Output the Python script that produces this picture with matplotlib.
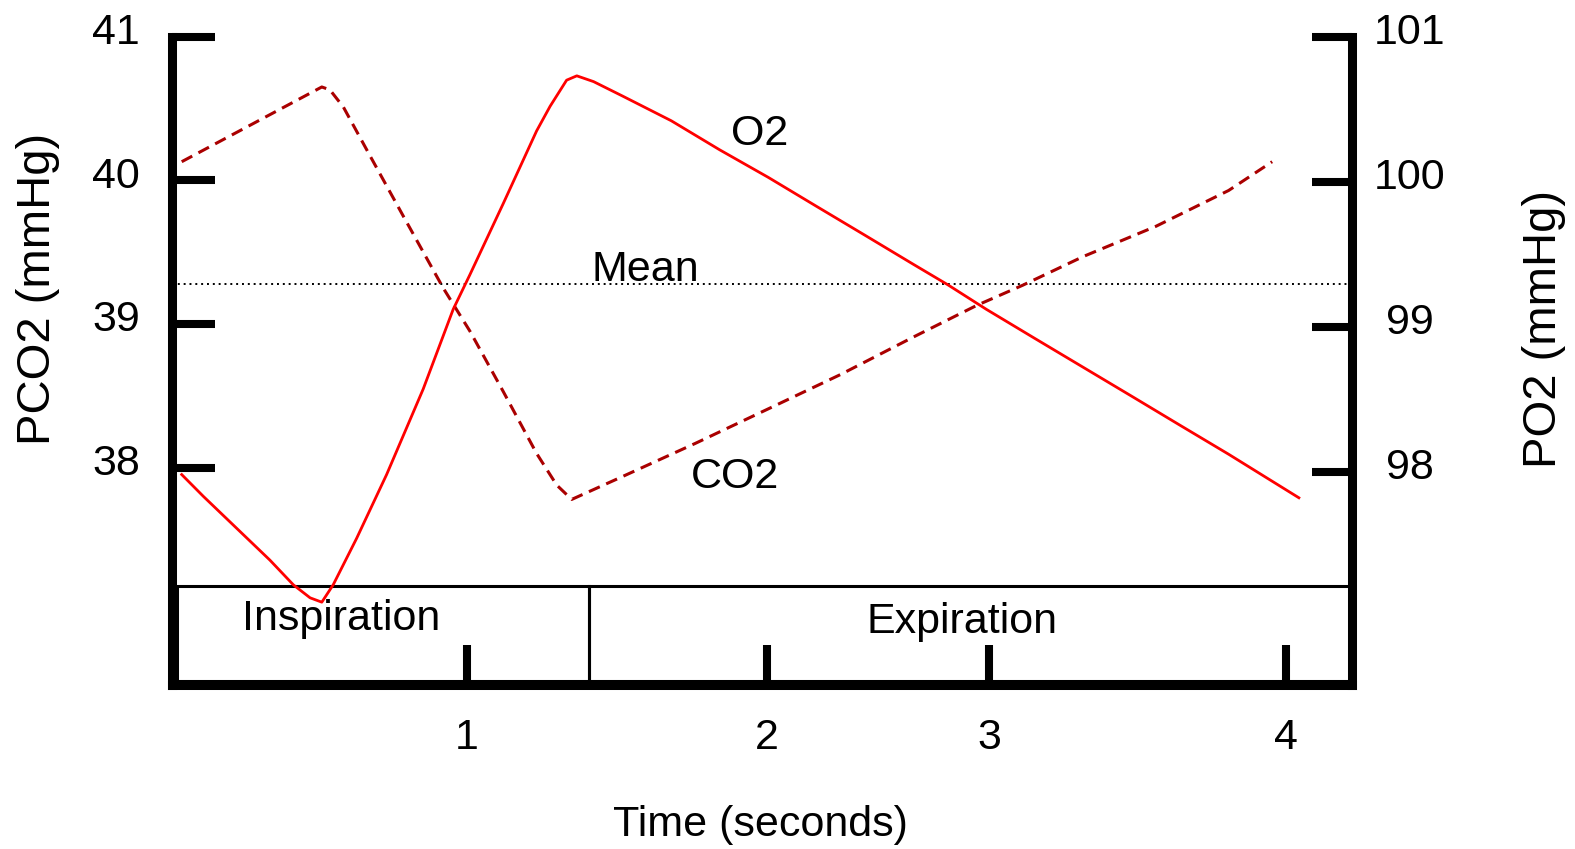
import matplotlib.pyplot as plt
import matplotlib.transforms as mtransforms
from matplotlib.patches import Rectangle

plt.rcParams['font.family'] = ['Liberation Sans', 'DejaVu Sans']

# O2 trace (right axis, mmHg)
o2_time = [0.049, 0.121, 0.232, 0.343, 0.421, 0.477, 0.516, 0.554, 0.632, 0.732,
           0.854, 0.954, 1.010, 1.121, 1.232, 1.277, 1.332, 1.366, 1.422, 1.519,
           1.681, 1.842, 2.004, 2.165, 2.327, 2.488, 2.602, 2.731, 2.892, 3.054,
           3.216, 3.377, 3.539, 3.773]
po2 = [97.98, 97.83, 97.61, 97.39, 97.22, 97.13, 97.10, 97.22, 97.54, 97.98,
       98.57, 99.12, 99.36, 99.85, 100.35, 100.52, 100.70, 100.73, 100.69, 100.59,
       100.42, 100.22, 100.03, 99.83, 99.63, 99.43, 99.29, 99.12, 98.92, 98.72,
       98.52, 98.32, 98.12, 97.82]

# CO2 trace (left axis, mmHg)
co2_time = [0.049, 0.516, 0.543, 0.588, 0.677, 0.788, 0.921, 1.010, 1.121, 1.232,
            1.299, 1.349, 1.519, 1.761, 2.004, 2.246, 2.488, 2.699, 2.852, 3.054,
            3.296, 3.539, 3.684]
pco2 = [40.13, 40.65, 40.63, 40.51, 40.17, 39.75, 39.25, 38.95, 38.53, 38.10,
        37.88, 37.78, 37.94, 38.17, 38.41, 38.65, 38.91, 39.13, 39.27, 39.47,
        39.68, 39.93, 40.13]
pco2_mean = 39.28

pco2_ticks = [38, 39, 40, 41]
po2_ticks = [98, 99, 100, 101]
time_ticks = [1, 2, 2.74, 3.73]
time_labels = ['1', '2', '3', '4']

phase_names = ['Inspiration', 'Expiration']
phase_edges = [0.032, 1.408, 3.949]

fig = plt.figure(figsize=(15.75, 8.49), dpi=100)
ax = fig.add_axes([0.1089, 0.1932, 0.7493, 0.7636])
ax2 = ax.twinx()

ax.set_xlim(0.015, 3.949)
ax.set_ylim(36.489, 41)
ax2.set_ylim(96.529, 101)

# phase boxes along the bottom
box_lo, box_hi = 36.515, 37.18
for i, name in enumerate(phase_names):
    x0, x1 = phase_edges[i], phase_edges[i + 1]
    ax.add_patch(Rectangle((x0, box_lo), x1 - x0, box_hi - box_lo,
                           fill=False, ec='black', lw=2.2))
ax.text(0.58, 36.871, phase_names[0], ha='center', va='baseline', fontsize=31)
ax.text(2.65, 36.848, phase_names[1], ha='center', va='baseline', fontsize=31)

ax.axhline(pco2_mean, color='black', lw=1.4, dashes=(1, 2))
ax.plot(co2_time, pco2, color='#aa0000', lw=2.2, dashes=(3.9, 2.3))
ax2.plot(o2_time, po2, color='red', lw=2)

ax.text(1.975, 40.246, 'O2', ha='center', va='baseline', fontsize=31)
ax.text(1.593, 39.30, 'Mean', ha='center', va='baseline', fontsize=31)
ax.text(1.895, 37.857, 'CO2', ha='center', va='baseline', fontsize=31)

# spines
for s in ['top', 'right']:
    ax.spines[s].set_visible(False)
for s in ['top', 'left', 'bottom']:
    ax2.spines[s].set_visible(False)
ax.spines['left'].set_linewidth(6.5)
ax.spines['bottom'].set_linewidth(6.5)
ax2.spines['right'].set_linewidth(6.5)

ax.set_xticks(time_ticks)
ax.set_xticklabels(time_labels)
ax.set_yticks(pco2_ticks)
ax2.set_yticks(po2_ticks)

ax.tick_params(axis='x', direction='in', length=29, width=5.8, pad=24, labelsize=31)
ax.tick_params(axis='y', direction='in', length=31, width=5.8, pad=40, labelsize=31)
ax2.tick_params(axis='y', direction='in', length=29, width=5.8, pad=42, labelsize=31)

up = mtransforms.ScaledTranslation(0, 6 / 72, fig.dpi_scale_trans)
for lab in ax.get_yticklabels():
    lab.set_ha('center')
    lab.set_transform(lab.get_transform() + up)
for lab in ax2.get_yticklabels():
    lab.set_ha('center')
    lab.set_transform(lab.get_transform() + up)

fig.text(60 / 1575, 1 - 289 / 849, 'PCO2 (mmHg)', rotation=90,
         ha='right', va='center', fontsize=34)
fig.text(1566 / 1575, 1 - 329 / 849, 'PO2 (mmHg)', rotation=90,
         ha='right', va='center', fontsize=34)
fig.text(760 / 1575, 1 - 836 / 849, 'Time (seconds)', ha='center',
         va='baseline', fontsize=31)

fig.savefig('out.png', dpi=100)
